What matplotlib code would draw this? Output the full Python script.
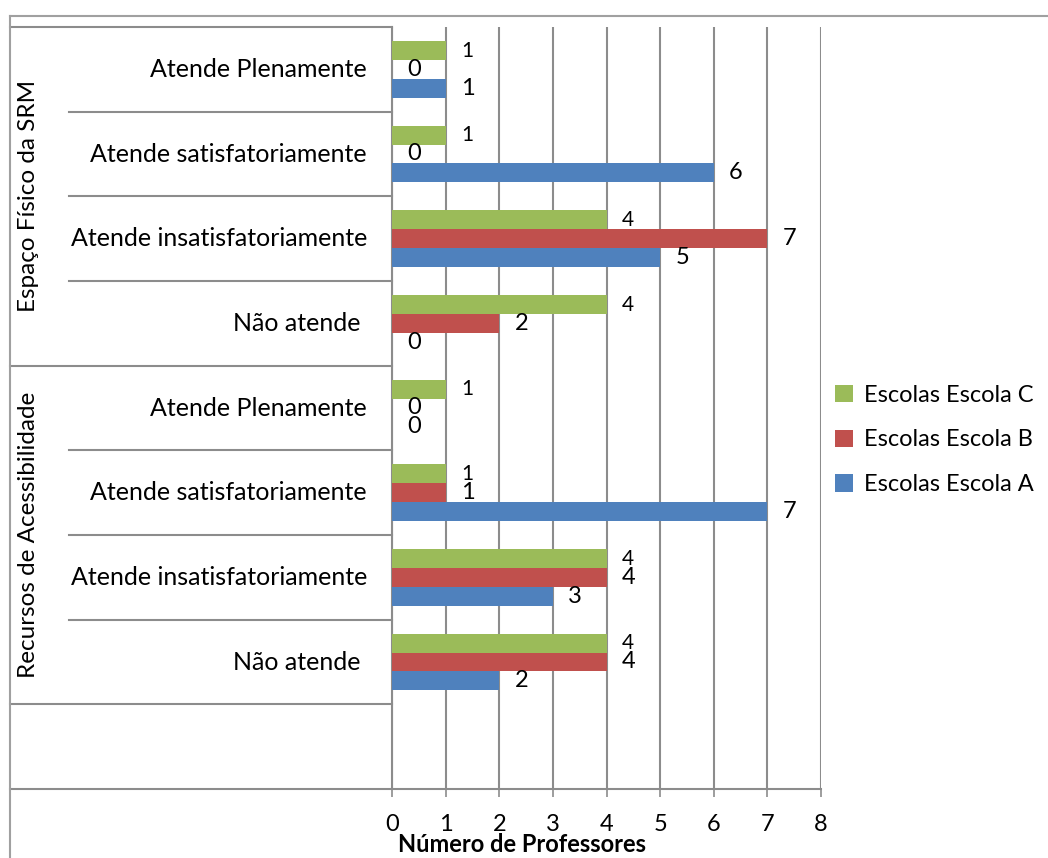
import matplotlib.pyplot as plt
from matplotlib.lines import Line2D
from matplotlib.transforms import blended_transform_factory

plt.rcParams['font.family'] = ['Lato', 'DejaVu Sans']

groups = ['Espaço Físico da SRM', 'Recursos de Acessibilidade']
categories = ['Atende Plenamente', 'Atende satisfatoriamente',
              'Atende insatisfatoriamente', 'Não atende']
series = ['Escolas Escola C', 'Escolas Escola B', 'Escolas Escola A']
colors = ['#9BBB59', '#C0504D', '#4F81BD']

# values per series, top-to-bottom: first group then second group
escola_c = [1, 1, 4, 4, 1, 1, 4, 4]
escola_b = [0, 0, 7, 2, 0, 1, 4, 4]
escola_a = [1, 6, 5, 0, 0, 7, 3, 2]
values = [escola_c, escola_b, escola_a]

W, H = 1048, 858
fig = plt.figure(figsize=(W / 100, H / 100), dpi=100)
ax = fig.add_axes([392 / W, 1 - 789 / H, 429 / W, 762 / H])

n_rows = len(groups) * len(categories) + 1  # extra empty slot at the bottom
bar_h = 1 / 4.5
grid_col = '#8c8c8c'

for k, (name, vals, col) in enumerate(zip(series, values, colors)):
    offset = (k - 1) * bar_h
    ys = [i + offset for i in range(len(vals))]
    ax.barh(ys, vals, height=bar_h, color=col, label=name, zorder=3)
    fs = 15 if k == 0 else 17
    for y, v in zip(ys, vals):
        ax.annotate(str(v), (v, y), xytext=(11, 0), textcoords='offset points',
                    ha='left', va='center', fontsize=fs, zorder=4)

ax.set_xlim(0, 8)
ax.set_ylim(n_rows - 0.5, -0.5)
ax.set_xticks(range(9))
ax.set_yticks([])
ax.tick_params(axis='x', length=6, color=grid_col, width=1.2, labelsize=17, pad=12)
ax.grid(axis='x', color=grid_col, lw=1.5, zorder=0)
for s in ['top', 'right']:
    ax.spines[s].set_visible(False)
ax.spines['left'].set_color(grid_col)
ax.spines['left'].set_linewidth(1.5)
ax.spines['bottom'].set_visible(False)
fig.text(522 / W, 1 - 845 / H, 'Número de Professores', ha='center', va='center',
         fontsize=17, fontweight='bold')

# category table on the left
tr = blended_transform_factory(fig.transFigure, ax.transData)
x_cat, x_grp, x_axis = 69 / W, 10 / W, 392 / W
n_cat = len(categories)
for g, grp in enumerate(groups):
    for c, cat in enumerate(categories):
        row = g * n_cat + c
        label = cat + ' ' if cat == 'Não atende' else cat
        ax.text(367 / W, row, label, transform=tr, ha='right', va='center', fontsize=18)
        if c < n_cat - 1:
            ax.add_line(Line2D([x_cat, x_axis], [row + 0.5] * 2, transform=tr,
                               color=grid_col, lw=1.5, clip_on=False))
    mid = g * n_cat + (n_cat - 1) / 2
    ax.text(29 / W, mid, grp, transform=tr, rotation=90, ha='center', va='center', fontsize=17.5)

for yb in [-0.5, n_cat - 0.5, 2 * n_cat - 0.5]:
    ax.add_line(Line2D([x_grp, x_axis], [yb] * 2, transform=tr,
                       color=grid_col, lw=1.5, clip_on=False))
# bottom baseline runs under the table and the plot
ax.add_line(Line2D([x_grp, 821 / W], [n_rows - 0.5] * 2, transform=tr,
                   color=grid_col, lw=1.5, clip_on=False))

# outer chart frame
fig.add_artist(Line2D([10 / W, 1], [1 - 16 / H] * 2, color='#a0a0a0', lw=1.5))
fig.add_artist(Line2D([10 / W] * 2, [0, 1 - 16 / H], color='#a0a0a0', lw=1.5))

handles, labels = ax.get_legend_handles_labels()
fig.legend(handles, labels, loc='center left', bbox_to_anchor=(814 / W, 1 - 440 / H),
           frameon=False, fontsize=17, handlelength=0.75, handleheight=0.75,
           handletextpad=0.45, labelspacing=1.0)

fig.savefig('out.png', dpi=100)
